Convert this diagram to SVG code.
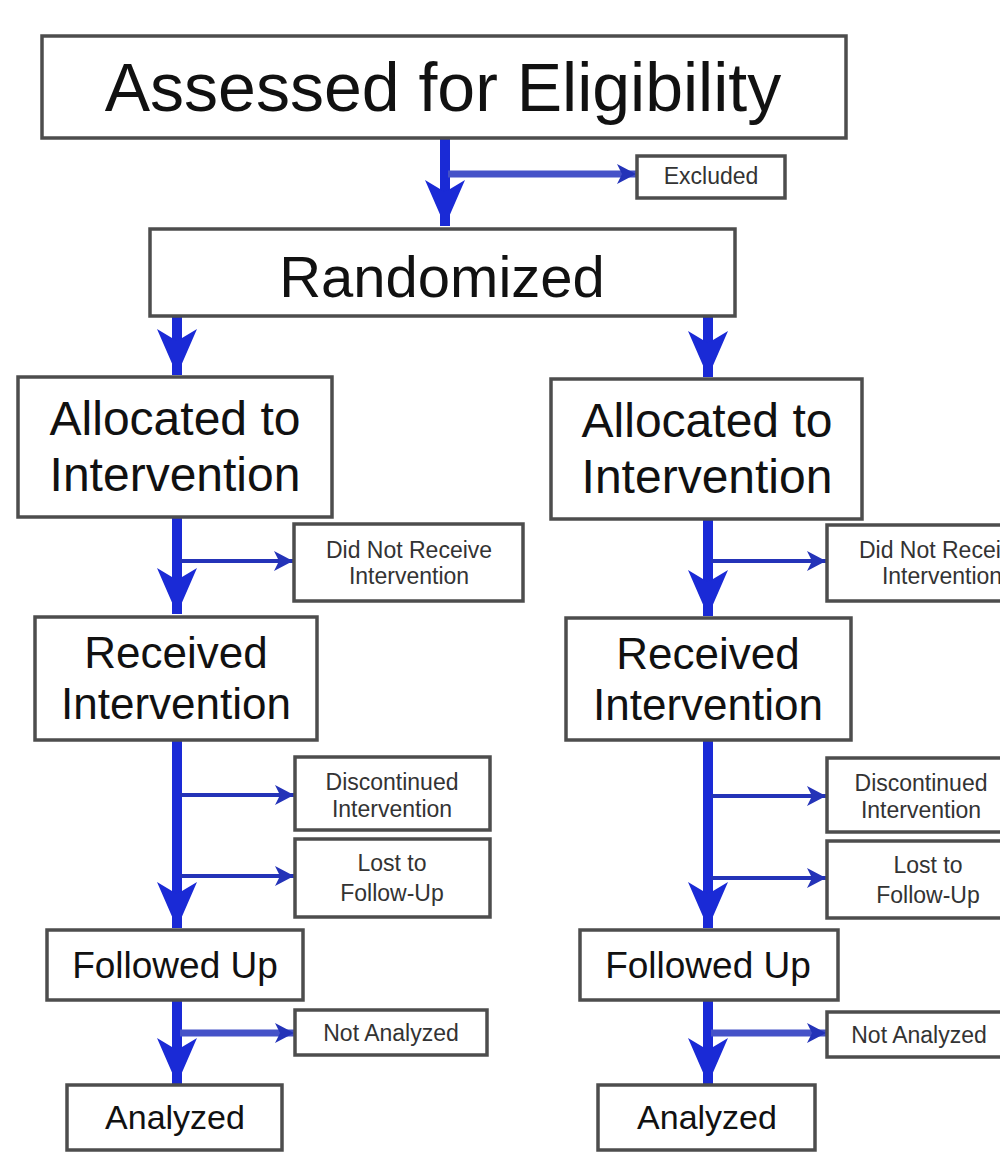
<svg xmlns="http://www.w3.org/2000/svg" width="1000" height="1165" viewBox="0 0 1000 1165">
<style>
.box{fill:#fff;stroke:#4d4d4d;stroke-width:3.5}
.t{font-family:"Liberation Sans",Arial,sans-serif;fill:#111;text-anchor:middle}
.s{font-family:"Liberation Sans",Arial,sans-serif;fill:#333;text-anchor:middle;font-size:23px}
.main{stroke:#1a2ad6;stroke-width:10;fill:none}
.br{stroke:#2433b8;stroke-width:4;fill:none}
.brw{stroke:#4552c8;stroke-width:7;fill:none}
</style>
<defs>
<marker id="big" markerUnits="userSpaceOnUse" viewBox="-46 -22 48 44" refX="0" refY="0" markerWidth="48" markerHeight="44" orient="auto">
<path d="M0,0 L-46,-20 L-34,0 L-46,20 Z" fill="#1a2ad6"/>
</marker>
<marker id="sm" markerUnits="userSpaceOnUse" viewBox="-20 -11 22 22" refX="0" refY="0" markerWidth="22" markerHeight="22" orient="auto">
<path d="M0,0 L-19,-10 L-14,0 L-19,10 Z" fill="#2433b8"/>
</marker>
</defs>
<rect width="1000" height="1165" fill="#fff"/>
<g id="connectors">
<line class="main" x1="445" y1="138" x2="445" y2="226" marker-end="url(#big)"/>
<line class="brw" x1="448" y1="174" x2="636" y2="174" marker-end="url(#sm)"/>
<line class="main" x1="177" y1="316" x2="177" y2="375" marker-end="url(#big)"/>
<line class="main" x1="708" y1="316" x2="708" y2="377" marker-end="url(#big)"/>
<line class="main" x1="177" y1="517" x2="177" y2="614" marker-end="url(#big)"/>
<line class="br" x1="180" y1="561" x2="293" y2="561" marker-end="url(#sm)"/>
<line class="main" x1="708" y1="519" x2="708" y2="616" marker-end="url(#big)"/>
<line class="br" x1="711" y1="561" x2="826" y2="561" marker-end="url(#sm)"/>
<line class="main" x1="177" y1="740" x2="177" y2="928" marker-end="url(#big)"/>
<line class="br" x1="180" y1="795" x2="294" y2="795" marker-end="url(#sm)"/>
<line class="br" x1="180" y1="876" x2="294" y2="876" marker-end="url(#sm)"/>
<line class="main" x1="708" y1="740" x2="708" y2="928" marker-end="url(#big)"/>
<line class="br" x1="711" y1="796" x2="826" y2="796" marker-end="url(#sm)"/>
<line class="br" x1="711" y1="878" x2="826" y2="878" marker-end="url(#sm)"/>
<line class="main" x1="177" y1="1000" x2="177" y2="1084" marker-end="url(#big)"/>
<line class="brw" x1="180" y1="1033" x2="294" y2="1033" marker-end="url(#sm)"/>
<line class="main" x1="708" y1="1000" x2="708" y2="1084" marker-end="url(#big)"/>
<line class="brw" x1="711" y1="1033" x2="826" y2="1033" marker-end="url(#sm)"/>
</g>
<g id="assessed"><rect class="box" x="42" y="36" width="804" height="102"/><text class="t" x="443" y="111" font-size="68">Assessed for Eligibility</text></g>
<g id="excluded"><rect class="box" x="637" y="156" width="148" height="42"/><text class="s" x="711" y="184">Excluded</text></g>
<g id="randomized"><rect class="box" x="150" y="229" width="585" height="87"/><text class="t" x="442" y="297" font-size="58">Randomized</text></g>
<g id="alloc-left"><rect class="box" x="18" y="377" width="314" height="140"/><text class="t" x="175" y="435" font-size="48">Allocated to</text><text class="t" x="175" y="491" font-size="48">Intervention</text></g>
<g id="alloc-right"><rect class="box" x="551" y="379" width="311" height="140"/><text class="t" x="707" y="437" font-size="48">Allocated to</text><text class="t" x="707" y="493" font-size="48">Intervention</text></g>
<g id="dnr-left"><rect class="box" x="294" y="524" width="229" height="77"/><text class="s" x="409" y="558">Did Not Receive</text><text class="s" x="409" y="584">Intervention</text></g>
<g id="dnr-right"><rect class="box" x="827" y="525" width="229" height="76"/><text class="s" x="942" y="558">Did Not Receive</text><text class="s" x="942" y="584">Intervention</text></g>
<g id="recv-left"><rect class="box" x="35" y="617" width="282" height="123"/><text class="t" x="176" y="668" font-size="44">Received</text><text class="t" x="176" y="719" font-size="44">Intervention</text></g>
<g id="recv-right"><rect class="box" x="566" y="618" width="285" height="122"/><text class="t" x="708" y="669" font-size="44">Received</text><text class="t" x="708" y="720" font-size="44">Intervention</text></g>
<g id="disc-left"><rect class="box" x="295" y="757" width="195" height="73"/><text class="s" x="392" y="790">Discontinued</text><text class="s" x="392" y="817">Intervention</text></g>
<g id="lost-left"><rect class="box" x="295" y="839" width="195" height="78"/><text class="s" x="392" y="871">Lost to</text><text class="s" x="392" y="901">Follow-Up</text></g>
<g id="disc-right"><rect class="box" x="827" y="758" width="190" height="74"/><text class="s" x="921" y="791">Discontinued</text><text class="s" x="921" y="818">Intervention</text></g>
<g id="lost-right"><rect class="box" x="827" y="841" width="190" height="77"/><text class="s" x="928" y="873">Lost to</text><text class="s" x="928" y="903">Follow-Up</text></g>
<g id="fu-left"><rect class="box" x="47" y="930" width="256" height="70"/><text class="t" x="175" y="978" font-size="37">Followed Up</text></g>
<g id="fu-right"><rect class="box" x="580" y="930" width="258" height="70"/><text class="t" x="708" y="978" font-size="37">Followed Up</text></g>
<g id="na-left"><rect class="box" x="295" y="1010" width="192" height="45"/><text class="s" x="391" y="1041">Not Analyzed</text></g>
<g id="na-right"><rect class="box" x="827" y="1012" width="192" height="45"/><text class="s" x="919" y="1043">Not Analyzed</text></g>
<g id="an-left"><rect class="box" x="67" y="1085" width="215" height="65"/><text class="t" x="175" y="1129" font-size="34">Analyzed</text></g>
<g id="an-right"><rect class="box" x="598" y="1085" width="217" height="65"/><text class="t" x="707" y="1129" font-size="34">Analyzed</text></g>
</svg>
